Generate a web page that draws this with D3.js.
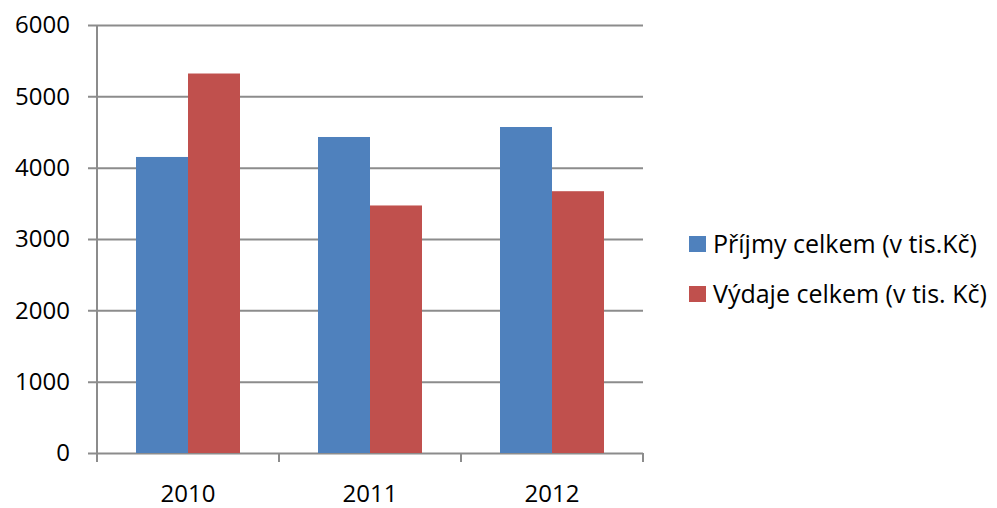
<!DOCTYPE html>
<html>
<head>
<meta charset="utf-8">
<script src="https://cdn.jsdelivr.net/npm/d3@7"></script>
<style>
  body { margin: 0; background: #fff; }
  svg text { font-family: "Open Sans", sans-serif; fill: #000; }
</style>
</head>
<body>
<div id="chart"></div>
<script>
const years = ['2010', '2011', '2012'];
const seriesNames = ['Příjmy celkem (v tis.Kč)', 'Výdaje celkem (v tis. Kč)'];
const prijmy = [4150, 4430, 4570];
const vydaje = [5320, 3470, 3670];
const yTicks = [0, 1000, 2000, 3000, 4000, 5000, 6000];
const colors = ['#4f81bd', '#c0504d'];

const rows = years.map((y, i) => ({year: y, values: [prijmy[i], vydaje[i]]}));

const width = 997;
const height = 508;
const margin = {top: 25, left: 97, right: 354, bottom: 55};
const plotW = width - margin.left - margin.right;
const plotH = height - margin.top - margin.bottom;

const svg = d3.select('#chart')
    .append('svg')
    .attr('width', width)
    .attr('height', height);

const g = svg.append('g')
    .attr('transform', `translate(${margin.left},${margin.top})`);

const x0 = d3.scaleBand()
    .domain(years)
    .range([0, plotW])
    .padding(0);

const x1 = d3.scaleBand()
    .domain([0, 1])
    .range([0, x0.bandwidth()])
    .paddingInner(0)
    .paddingOuter(0.75);

const y = d3.scaleLinear()
    .domain([0, 6000])
    .range([plotH, 0]);

// gridlines + y labels
const yAxis = d3.axisLeft(y)
    .tickValues(yTicks)
    .tickFormat(d3.format('d'))
    .tickSizeInner(-plotW)
    .tickSizeOuter(0)
    .tickPadding(27);

const gy = g.append('g')
    .attr('class', 'y axis')
    .call(yAxis);
gy.select('.domain').remove();
gy.selectAll('line')
    .attr('x1', -9)
    .attr('stroke', '#8c8c8c')
    .attr('stroke-width', 2);
gy.selectAll('text')
    .style('font-size', '24px');

// vertical axis line
g.append('line')
    .attr('x1', 0).attr('x2', 0)
    .attr('y1', y(6000)).attr('y2', y(0))
    .attr('stroke', '#8c8c8c')
    .attr('stroke-width', 2);

// bars
g.append('g')
    .selectAll('g')
    .data(rows)
    .join('g')
    .attr('transform', d => `translate(${x0(d.year)},0)`)
    .selectAll('rect')
    .data(d => d.values.map((v, k) => ({k, v})))
    .join('rect')
    .attr('x', d => x1(d.k))
    .attr('width', x1.bandwidth())
    .attr('y', d => y(d.v))
    .attr('height', d => y(0) - y(d.v))
    .attr('fill', d => colors[d.k]);

// x axis: category boundary ticks and labels
const xAxis = d3.axisBottom(x0)
    .tickSize(0)
    .tickPadding(32);

const gx = g.append('g')
    .attr('class', 'x axis')
    .attr('transform', `translate(0,${plotH})`)
    .call(xAxis);
gx.select('.domain').remove();
gx.selectAll('text').style('font-size', '24px');

const bounds = years.map(d => x0(d)).concat([x0(years[years.length - 1]) + x0.bandwidth()]);
gx.selectAll('line.bound')
    .data(bounds)
    .join('line')
    .attr('class', 'bound')
    .attr('x1', d => d).attr('x2', d => d)
    .attr('y1', 0).attr('y2', 9)
    .attr('stroke', '#8c8c8c')
    .attr('stroke-width', 2);

// legend
const legend = svg.append('g')
    .attr('transform', 'translate(689,236)');

const item = legend.selectAll('g')
    .data(seriesNames)
    .join('g')
    .attr('transform', (d, i) => `translate(0,${i * 50})`);

item.append('rect')
    .attr('width', 17)
    .attr('height', 16)
    .attr('fill', (d, i) => colors[i]);

item.append('text')
    .attr('x', 24)
    .attr('y', 8)
    .attr('dy', '0.35em')
    .style('font-size', '25px')
    .text(d => d);
</script>
</body>
</html>
